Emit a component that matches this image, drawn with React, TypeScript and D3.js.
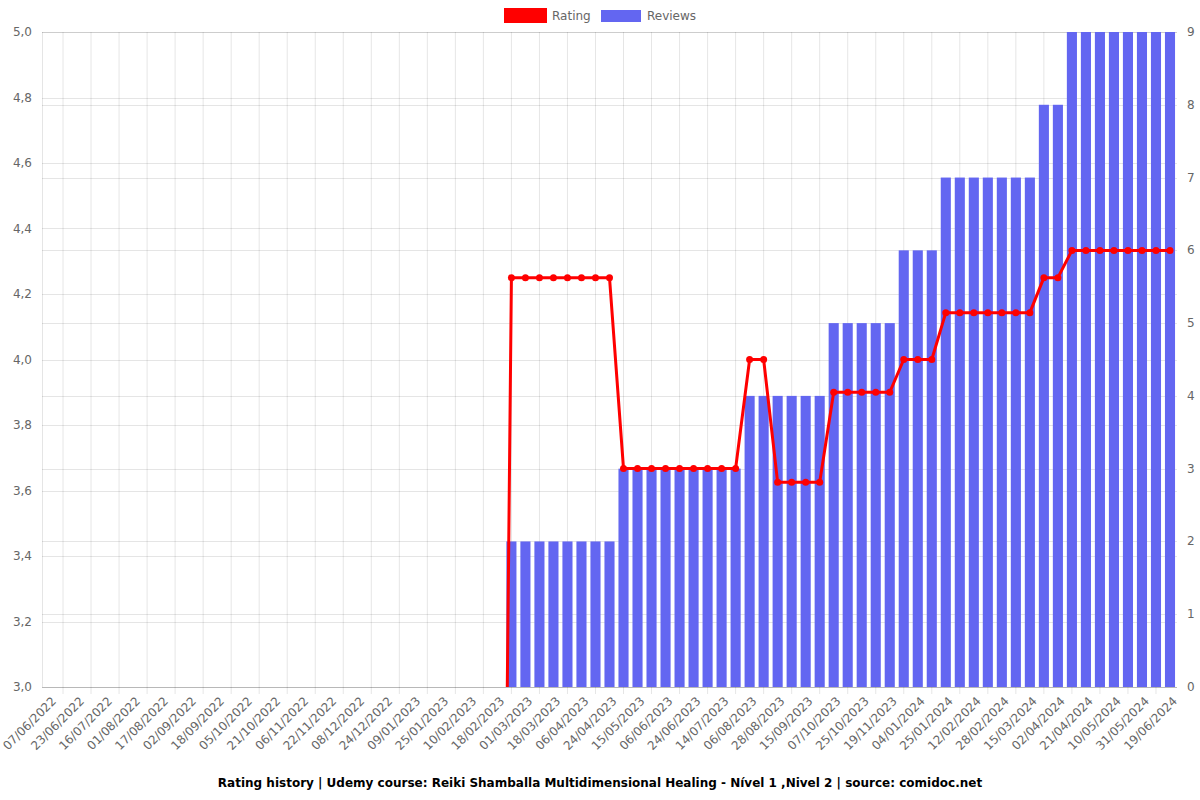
import React from "react";
import * as d3 from "d3";

const tickLabels = [
  "07/06/2022", "23/06/2022", "16/07/2022", "01/08/2022", "17/08/2022", "02/09/2022",
  "18/09/2022", "05/10/2022", "21/10/2022", "06/11/2022", "22/11/2022", "08/12/2022",
  "24/12/2022", "09/01/2023", "25/01/2023", "10/02/2023", "18/02/2023", "01/03/2023",
  "18/03/2023", "06/04/2023", "24/04/2023", "15/05/2023", "06/06/2023", "24/06/2023",
  "14/07/2023", "06/08/2023", "28/08/2023", "15/09/2023", "07/10/2023", "25/10/2023",
  "19/11/2023", "04/01/2024", "25/01/2024", "12/02/2024", "28/02/2024", "15/03/2024",
  "02/04/2024", "21/04/2024", "10/05/2024", "31/05/2024", "19/06/2024",
];

// 81 data points (labels shown on every other point)
const ratings = [
  0, 0, 0, 0, 0, 0, 0, 0, 0, 0,
  0, 0, 0, 0, 0, 0, 0, 0, 0, 0,
  0, 0, 0, 0, 0, 0, 0, 0, 0, 0,
  0, 0, 0, 4.25, 4.25, 4.25, 4.25, 4.25, 4.25, 4.25,
  4.25, 3.667, 3.667, 3.667, 3.667, 3.667, 3.667, 3.667, 3.667, 3.667,
  4.0, 4.0, 3.625, 3.625, 3.625, 3.625, 3.9, 3.9, 3.9, 3.9,
  3.9, 4.0, 4.0, 4.0, 4.143, 4.143, 4.143, 4.143, 4.143, 4.143,
  4.143, 4.25, 4.25, 4.333, 4.333, 4.333, 4.333, 4.333, 4.333, 4.333,
  4.333,
];

const reviews = [
  0, 0, 0, 0, 0, 0, 0, 0, 0, 0,
  0, 0, 0, 0, 0, 0, 0, 0, 0, 0,
  0, 0, 0, 0, 0, 0, 0, 0, 0, 0,
  0, 0, 0, 2, 2, 2, 2, 2, 2, 2,
  2, 3, 3, 3, 3, 3, 3, 3, 3, 3,
  4, 4, 4, 4, 4, 4, 5, 5, 5, 5,
  5, 6, 6, 6, 7, 7, 7, 7, 7, 7,
  7, 8, 8, 9, 9, 9, 9, 9, 9, 9,
  9,
];

const ratingTicks = [3.0, 3.2, 3.4, 3.6, 3.8, 4.0, 4.2, 4.4, 4.6, 4.8, 5.0];
const reviewTicks = [0, 1, 2, 3, 4, 5, 6, 7, 8, 9];

const titleText =
  "Rating history | Udemy course: Reiki Shamballa Multidimensional Healing - Nível 1 ,Nivel 2 | source: comidoc.net";

const W = 1200;
const H = 800;
const left = 42;
const right = 1177;
const top = 32;
const bottom = 687;
const FONT = "DejaVu Sans, sans-serif";
const GRID = "rgba(0,0,0,0.1)";
const RED = "#ff0000";
const BLUE = "#6366f1";

export default function App() {
  const idx = ratings.map((_, i) => i);
  const x = d3.scaleBand<number>().domain(idx).range([left, right]).padding(0);
  const bw = x.bandwidth();
  const cx = (i: number) => (x(i) as number) + bw / 2;
  const yL = d3.scaleLinear().domain([3, 5]).range([bottom, top]);
  const yR = d3.scaleLinear().domain([0, 9]).range([bottom, top]);

  const labelIdx = tickLabels.map((_, k) => k * 2);
  const gridXs: number[] = [];
  for (let k = 0; k < labelIdx.length - 1; k++) {
    gridXs.push((cx(labelIdx[k]) + cx(labelIdx[k + 1])) / 2);
  }

  const line = d3
    .line<number>()
    .x((_, i) => cx(i))
    .y((d) => yL(d));

  const barW = bw * 0.72;
  const fmt = (v: number) => v.toFixed(1).replace(".", ",");

  return (
    <svg width={W} height={H} style={{ display: "block", position: "absolute", left: 0, top: 0 }} fontFamily={FONT}>
      <defs>
        <clipPath id="plotClip">
          <rect x={left} y={top - 5} width={right - left + 5} height={bottom - top + 5} />
        </clipPath>
      </defs>
      <rect x={0} y={0} width={W} height={H} fill="#fff" />

      {/* vertical grid */}
      {gridXs.map((gx, k) => (
        <line key={"vx" + k} x1={gx} x2={gx} y1={top} y2={bottom + 7} stroke={GRID} strokeWidth={1} />
      ))}
      {/* horizontal grid left */}
      {ratingTicks.map((t) => (
        <line key={"hl" + t} x1={left} x2={right} y1={Math.round(yL(t)) + 0.5} y2={Math.round(yL(t)) + 0.5} stroke={GRID} />
      ))}
      {/* horizontal grid right */}
      {reviewTicks.map((t) => (
        <line key={"hr" + t} x1={left} x2={right} y1={Math.round(yR(t)) + 0.5} y2={Math.round(yR(t)) + 0.5} stroke={GRID} />
      ))}
      {/* axis borders */}
      <line x1={left + 0.5} x2={left + 0.5} y1={top} y2={bottom} stroke={GRID} />
      <line x1={left} x2={right} y1={bottom + 0.5} y2={bottom + 0.5} stroke={GRID} />

      {/* bars */}
      <g clipPath="url(#plotClip)">
        {reviews.map((v, i) =>
          v > 0 ? (
            <rect key={"b" + i} x={cx(i) - barW / 2} y={yR(v)} width={barW} height={yR(0) - yR(v)} fill={BLUE} />
          ) : null
        )}
      </g>

      {/* rating line */}
      <g clipPath="url(#plotClip)">
        <path d={line(ratings) || ""} fill="none" stroke={RED} strokeWidth={3} strokeLinejoin="round" />
        {ratings.map((v, i) =>
          v >= 3 ? <circle key={"c" + i} cx={cx(i)} cy={yL(v)} r={3.5} fill={RED} /> : null
        )}
      </g>

      {/* left axis labels */}
      {ratingTicks.map((t) => (
        <text key={"tl" + t} x={32} y={yL(t)} textAnchor="end" dominantBaseline="central" fontSize={12} fill="#666">
          {fmt(t)}
        </text>
      ))}
      {/* right axis labels */}
      {reviewTicks.map((t) => (
        <text key={"tr" + t} x={1187} y={yR(t)} textAnchor="start" dominantBaseline="central" fontSize={12} fill="#666">
          {t}
        </text>
      ))}

      {/* x labels */}
      {tickLabels.map((lab, k) => {
        const px = cx(labelIdx[k]) + 5;
        const py = bottom + 12;
        return (
          <text
            key={"xl" + k}
            transform={`translate(${px},${py}) rotate(-45)`}
            textAnchor="end"
            dominantBaseline="central"
            fontSize={12}
            fill="#666"
          >
            {lab}
          </text>
        );
      })}

      {/* legend */}
      <rect x={505.5} y={9.5} width={40} height={12} fill={RED} stroke={RED} strokeWidth={3} />
      <text x={552} y={16} dominantBaseline="central" fontSize={12} fill="#666">Rating</text>
      <rect x={601} y={10} width={40} height={12} fill={BLUE} />
      <text x={647} y={16} dominantBaseline="central" fontSize={12} fill="#666">Reviews</text>

      {/* title */}
      <text x={600} y={783} textAnchor="middle" dominantBaseline="central" fontSize={12} fontWeight="bold" fill="#000">
        {titleText}
      </text>
    </svg>
  );
}
